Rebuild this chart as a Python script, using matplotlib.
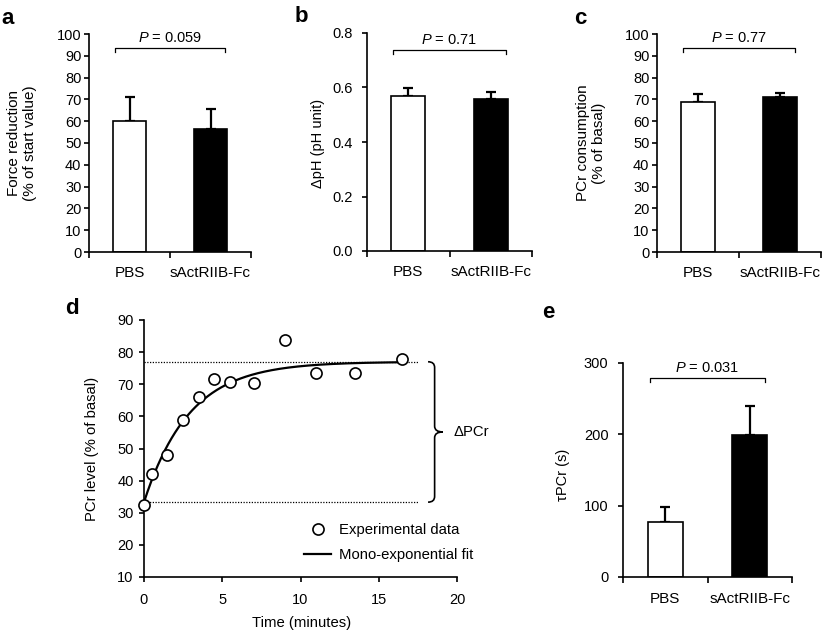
import numpy as np
import matplotlib
matplotlib.use("Agg")
import matplotlib.pyplot as plt
from matplotlib.path import Path
from matplotlib.patches import PathPatch
from matplotlib.lines import Line2D

plt.rcParams['font.family'] = ['Liberation Sans', 'DejaVu Sans']
plt.rcParams['mathtext.fontset'] = 'custom'
plt.rcParams['mathtext.it'] = 'Liberation Sans:italic'
plt.rcParams['mathtext.rm'] = 'Liberation Sans'

# ---------------- data ----------------
groups = ["PBS", "sActRIIB-Fc"]

force_mean = [60.0, 56.3]
force_err = [11.3, 9.3]
force_p = "0.059"

dph_mean = [0.569, 0.558]
dph_err = [0.029, 0.025]
dph_p = "0.71"

pcr_cons_mean = [68.8, 70.9]
pcr_cons_err = [3.6, 1.9]
pcr_cons_p = "0.77"

tau_mean = [77.3, 199.0]
tau_err = [20.5, 40.4]
tau_p = "0.031"

time_min = [0, 0.5, 1.5, 2.5, 3.5, 4.5, 5.5, 7.0, 9.0, 11.0, 13.5, 16.5]
pcr_level = [32.3, 42.2, 48.0, 58.9, 66.1, 71.6, 70.8, 70.3, 83.9, 73.5, 73.5, 78.0]

# mono-exponential fit parameters
fit_y0 = 33.3
fit_plateau = 77.0
fit_tau = 2.9
fit_tend = 16.5

W, H = 825, 632
fig = plt.figure(figsize=(W / 100, H / 100), dpi=100)


def add_ax(l, t, r, b):
    return fig.add_axes([l / W, 1 - b / H, (r - l) / W, (b - t) / H])


def style(ax, fs, ypad):
    for s in ['top', 'right']:
        ax.spines[s].set_visible(False)
    for s in ['left', 'bottom']:
        ax.spines[s].set_linewidth(1.2)
    ax.tick_params(axis='both', which='both', direction='out', width=1.2,
                   length=3.5, labelsize=fs)
    ax.tick_params(axis='y', pad=ypad)


def bar_panel(ax, means, errs, ylim, yticks, ptext, bracket_y, drop, yfmt,
              fs_y, fs_x, fs_p, ypad, xpad):
    style(ax, fs_y, ypad)
    x = np.arange(len(means))
    ax.bar(x, means, width=0.41, color=['white', 'black'], edgecolor='black',
           linewidth=1.2, zorder=2)
    ax.errorbar(x, means, yerr=[np.zeros(len(errs)), errs], fmt='none',
                ecolor='black', elinewidth=1.6, capsize=3.5, capthick=1.6, zorder=1)
    ax.set_xlim(-0.5, 1.5)
    ax.set_ylim(*ylim)
    ax.set_yticks(yticks)
    ax.set_yticklabels([yfmt.format(v) for v in yticks])
    ax.set_xticks(x)
    ax.set_xticklabels(groups, fontsize=fs_x)
    ax.tick_params(axis='x', which='major', length=0, pad=xpad)
    ax.set_xticks([-0.5, 0.5, 1.5], minor=True)
    ax.tick_params(axis='x', which='minor', length=4, width=1.2)
    ax.plot([-0.18, -0.18, 1.18, 1.18],
            [bracket_y - drop, bracket_y, bracket_y, bracket_y - drop],
            color='black', lw=0.9, clip_on=False)
    ax.text(0.5, bracket_y + drop * 0.8, r'$\it{P}$ = ' + ptext, ha='center',
            va='bottom', fontsize=fs_p)


# panel a
axa = add_ax(89, 34, 251, 252)
bar_panel(axa, force_mean, force_err, (0, 100), np.arange(0, 101, 10),
          force_p, 93.4, 1.8, "{:.0f}", 10.5, 11, 10.5, 2, 10)
# panel b
axb = add_ax(367, 33, 532, 251)
bar_panel(axb, dph_mean, dph_err, (0, 0.8), np.arange(0, 0.81, 0.2),
          dph_p, 0.736, 0.0145, "{:.1f}", 10.5, 11, 10.5, 7, 10)
# panel c
axc = add_ax(657, 34, 821, 252)
bar_panel(axc, pcr_cons_mean, pcr_cons_err, (0, 100), np.arange(0, 101, 10),
          pcr_cons_p, 93.6, 1.8, "{:.0f}", 10.5, 11, 10.5, 2, 10)
# panel e
axe = add_ax(623, 363, 792, 577)
bar_panel(axe, tau_mean, tau_err, (0, 300), np.arange(0, 301, 100),
          tau_p, 279, 5.5, "{:.0f}", 10.5, 11, 10.5, 7, 11)

# y labels for bar panels
fig.text(22 / W, 1 - 143 / H, "Force reduction\n(% of start value)", rotation=90,
         ha='center', va='center', fontsize=11, linespacing=1.1)
fig.text(318 / W, 1 - 143 / H, "ΔpH (pH unit)", rotation=90,
         ha='center', va='center', fontsize=10.5)
fig.text(591 / W, 1 - 143 / H, "PCr consumption\n(% of basal)", rotation=90,
         ha='center', va='center', fontsize=11, linespacing=1.1)
fig.text(563 / W, 1 - 475 / H, "τPCr (s)", rotation=90,
         ha='center', va='center', fontsize=10.5)

# panel d
axd = add_ax(144, 320, 457, 577)
style(axd, 10.5, 4)
axd.set_xlim(0, 20)
axd.set_ylim(10, 90)
axd.set_xticks(np.arange(0, 21, 5))
axd.set_yticks(np.arange(10, 91, 10))
axd.tick_params(axis='x', pad=8)
tfit = np.linspace(0, fit_tend, 300)
yfit = fit_plateau - (fit_plateau - fit_y0) * np.exp(-tfit / fit_tau)
axd.plot([0, 17.5], [fit_plateau, fit_plateau], ls=(0, (1, 1.2)), color='black', lw=0.9)
axd.plot([0, 17.6], [fit_y0, fit_y0], ls=(0, (1, 1.2)), color='black', lw=0.9)
axd.plot(tfit, yfit, color='black', lw=1.6, zorder=3)
axd.plot(time_min, pcr_level, 'o', mfc='white', mec='black', mew=1.2, ms=8,
         clip_on=False, zorder=4)
fig.text(302 / W, 1 - 623 / H, "Time (minutes)", ha='center', va='center', fontsize=10.7)
fig.text(92 / W, 1 - 449 / H, "PCr level (% of basal)", rotation=90,
         ha='center', va='center', fontsize=10.7)

# brace
xb0, xb1, xtip = 18.15, 18.57, 19.1
ym = (fit_plateau + fit_y0) / 2
yt, yb = fit_plateau, fit_y0
c = 1.8
verts = [(xb0, yt), (xb1, yt), (xb1, yt - c),
         (xb1, ym + c),
         (xb1, ym), (xtip, ym), (xtip, ym),
         (xb1, ym), (xb1, ym - c),
         (xb1, yb + c),
         (xb1, yb), (xb0, yb), (xb0, yb)]
codes = [Path.MOVETO, Path.CURVE3, Path.CURVE3,
         Path.LINETO,
         Path.CURVE3, Path.CURVE3, Path.LINETO,
         Path.CURVE3, Path.CURVE3,
         Path.LINETO,
         Path.CURVE3, Path.CURVE3, Path.LINETO]
axd.add_patch(PathPatch(Path(verts, codes), fc='none', ec='black', lw=1.2, clip_on=False))
axd.text(19.75, ym, "ΔPCr", ha='left', va='center', fontsize=10.7, clip_on=False)

handles = [Line2D([], [], ls='none', marker='o', mfc='white', mec='black', mew=1.2, ms=8),
           Line2D([], [], color='black', lw=1.6)]
axd.legend(handles, ["Experimental data", "Mono-exponential fit"],
           loc='center left', bbox_to_anchor=(297 / W, 1 - 542.5 / H),
           bbox_transform=fig.transFigure, frameon=False, fontsize=10.7,
           borderpad=0, handlelength=1.8, handletextpad=0.55, labelspacing=0.7)

# panel letters
for lab, (px, py) in zip("abcde", [(8, 18), (301, 17), (580, 18), (72, 309), (548, 312)]):
    fig.text(px / W, 1 - py / H, lab, fontsize=16, fontweight='bold',
             ha='center', va='center')

fig.savefig("out.png", dpi=100)
